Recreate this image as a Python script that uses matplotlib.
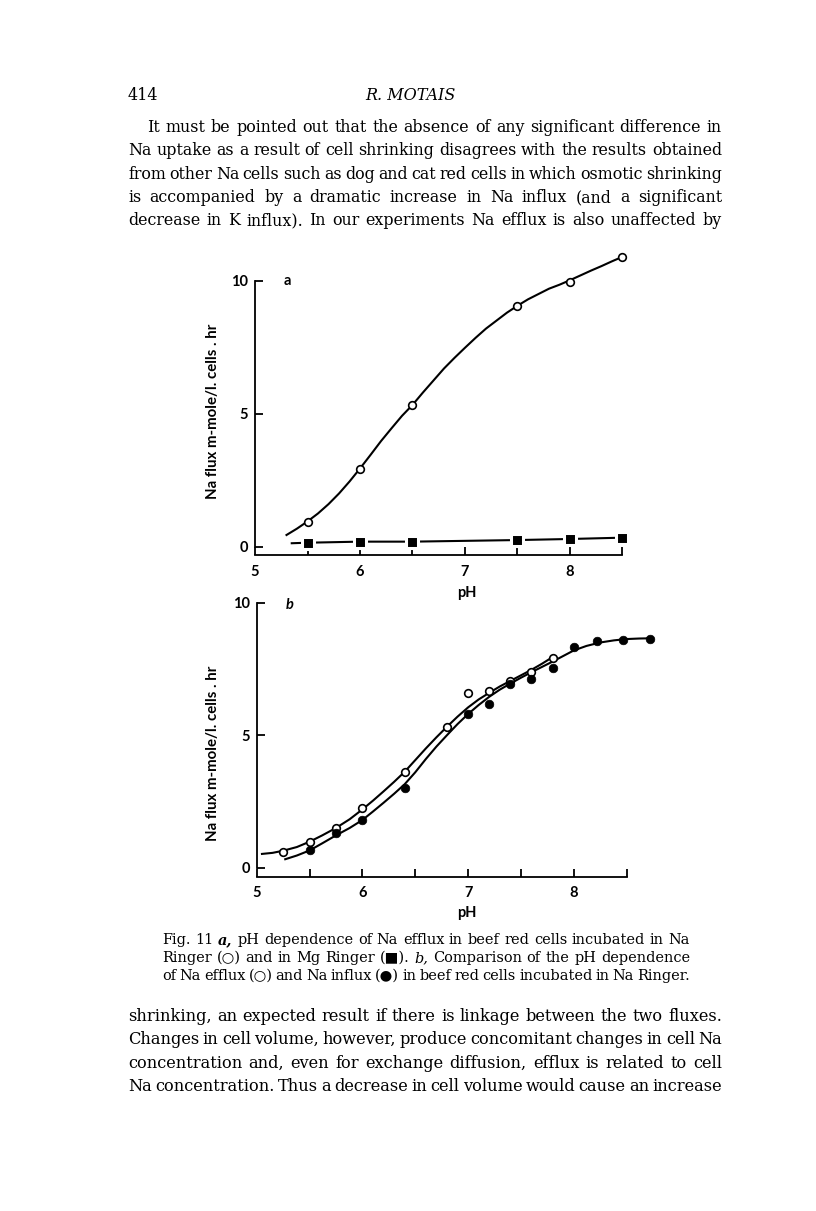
import matplotlib
matplotlib.use('Agg')
import matplotlib.pyplot as plt

W, H = 816, 1211
SERIF = ['DejaVu Serif', 'DejaVu Sans']
SANS = ['Lato', 'DejaVu Sans']

# --- Fig. 11a: Na efflux, Na Ringer (open circles) and Mg Ringer (filled squares)
ph_a_na = [5.5, 6.0, 6.5, 7.5, 8.0, 8.5]
flux_a_na = [0.94, 2.94, 5.33, 9.06, 9.96, 10.9]
ph_a_mg = [5.5, 6.0, 6.5, 7.5, 8.0, 8.5]
flux_a_mg = [0.15, 0.19, 0.19, 0.25, 0.29, 0.34]

# hand drawn fit curve of panel a
curve_a_x = [5.3, 5.4, 5.5, 5.6, 5.7, 5.8, 5.9, 6.0, 6.1, 6.2, 6.3, 6.4, 6.5, 6.6, 6.7, 6.8, 6.9,
             7.0, 7.1, 7.2, 7.3, 7.4, 7.5, 7.6, 7.7, 7.8, 7.9, 8.0, 8.1, 8.2, 8.3, 8.4, 8.5]
curve_a_y = [0.44, 0.68, 0.95, 1.25, 1.6, 2.0, 2.45, 2.94, 3.45, 3.97, 4.45, 4.92, 5.33, 5.8, 6.25,
             6.7, 7.1, 7.48, 7.85, 8.2, 8.5, 8.8, 9.06, 9.3, 9.5, 9.7, 9.85, 10.02, 10.2, 10.38, 10.55,
             10.73, 10.9]
mg_line_x = [5.35, 5.5, 6.0, 6.5, 7.5, 8.0, 8.5]
mg_line_y = [0.13, 0.15, 0.19, 0.19, 0.25, 0.29, 0.34]

# --- Fig. 11b: Na efflux (open) and Na influx (filled)
ph_b_eff = [5.25, 5.5, 5.75, 6.0, 6.4, 6.8, 7.0, 7.2, 7.4, 7.6, 7.8]
flux_b_eff = [0.60, 0.98, 1.48, 2.24, 3.62, 5.32, 6.60, 6.67, 7.04, 7.40, 7.90]
ph_b_inf = [5.5, 5.75, 6.0, 6.4, 7.0, 7.2, 7.4, 7.6, 7.8, 8.0, 8.22, 8.47, 8.72]
flux_b_inf = [0.67, 1.32, 1.80, 3.02, 5.80, 6.16, 6.93, 7.12, 7.55, 8.34, 8.55, 8.59, 8.65]

curve_eff_x = [5.05, 5.15, 5.25, 5.38, 5.5, 5.62, 5.75, 5.88, 6.0, 6.1, 6.2, 6.3, 6.4, 6.5, 6.6,
               6.7, 6.8, 6.9, 7.0, 7.1, 7.2, 7.3, 7.4, 7.5, 7.6, 7.7, 7.8]
curve_eff_y = [0.52, 0.56, 0.64, 0.78, 0.98, 1.22, 1.5, 1.83, 2.2, 2.53, 2.88, 3.24, 3.62, 4.06, 4.5,
               4.92, 5.32, 5.7, 6.05, 6.35, 6.6, 6.84, 7.05, 7.26, 7.47, 7.7, 7.95]
curve_inf_x = [5.27, 5.38, 5.5, 5.62, 5.75, 5.88, 6.0, 6.1, 6.2, 6.3, 6.4, 6.5, 6.6, 6.7, 6.8, 6.9,
               7.0, 7.1, 7.2, 7.3, 7.4, 7.5, 7.6, 7.7, 7.8, 7.9, 8.0, 8.12, 8.25, 8.38, 8.5, 8.62, 8.75]
curve_inf_y = [0.32, 0.46, 0.65, 0.92, 1.22, 1.5, 1.8, 2.12, 2.45, 2.79, 3.15, 3.6, 4.1, 4.57, 5.0,
               5.42, 5.8, 6.14, 6.45, 6.72, 6.95, 7.17, 7.38, 7.58, 7.78, 7.99, 8.2, 8.37, 8.5, 8.58,
               8.63, 8.65, 8.66]

xticks_major = [5, 6, 7, 8]
xticks_minor = [5.5, 6.5, 7.5, 8.5]
yticks = [0, 5, 10]
ylab = 'Na flux m-mole/l. cells . hr'

# --- page text
header_left = '414'
header_mid = 'R. MOTAIS'
para_top = [
    'It must be pointed out that the absence of any significant difference in',
    'Na uptake as a result of cell shrinking disagrees with the results obtained',
    'from other Na cells such as dog and cat red cells in which osmotic shrinking',
    'is accompanied by a dramatic increase in Na influx (and a significant',
    'decrease in K influx). In our experiments Na efflux is also unaffected by',
]
caption = [
    'Fig. 11 ^a, pH dependence of Na efflux in beef red cells incubated in Na',
    'Ringer (\u25cb) and in Mg Ringer (\u25a0). ~b, Comparison of the pH dependence',
    'of Na efflux (\u25cb) and Na influx (\u25cf) in beef red cells incubated in Na Ringer.',
]
para_bottom = [
    'shrinking, an expected result if there is linkage between the two fluxes.',
    'Changes in cell volume, however, produce concomitant changes in cell Na',
    'concentration and, even for exchange diffusion, efflux is related to cell',
    'Na concentration. Thus a decrease in cell volume would cause an increase',
]

fig = plt.figure(figsize=(W / 100, H / 100), dpi=100)
fig.patch.set_facecolor('white')
renderer = fig.canvas.get_renderer()


def px_axes(x0, x1, y_top, y_bot):
    return fig.add_axes([x0 / W, 1 - y_bot / H, (x1 - x0) / W, (y_bot - y_top) / H])


def style_axes(ax, offset_px):
    ax.patch.set_visible(False)
    for s in ['top', 'right']:
        ax.spines[s].set_visible(False)
    for s in ['left', 'bottom']:
        ax.spines[s].set_linewidth(1.3)
    ax.spines['left'].set_bounds(0, 10)
    ax.spines['bottom'].set_bounds(5, 8.5)
    ax.spines['bottom'].set_position(('outward', offset_px * 0.72))
    ax.set_xticks(xticks_major)
    ax.set_xticks(xticks_minor, minor=True)
    ax.set_yticks(yticks)
    ax.tick_params(which='both', direction='in', length=6, width=1.3)
    ax.tick_params(axis='y', pad=5, labelsize=10.5)
    ax.tick_params(axis='x', pad=7, labelsize=10.5)
    for lab in ax.get_xticklabels() + ax.get_yticklabels():
        lab.set_family(SANS)
        lab.set_weight('bold')


# panel a
ax1 = px_axes(255, 654, 248.8, 546.7)
ax1.set_xlim(5, 8.8)
ax1.set_ylim(0, 11.2)
style_axes(ax1, 8.3)
ax1.plot(curve_a_x, curve_a_y, color='black', lw=1.5, clip_on=False)
ax1.plot(ph_a_na, flux_a_na, 'o', ms=5.5, mfc='white', mec='black', mew=1.2, clip_on=False)
ax1.plot(mg_line_x, mg_line_y, color='black', lw=1.5, clip_on=False)
ax1.plot(ph_a_mg, flux_a_mg, 's', ms=8.5, mfc='black', mec='white', mew=2.2, clip_on=False)
ax1.text(5.27, 10, 'a', family=SANS, fontsize=10.5, weight='bold', va='center', ha='left')

# panel b
ax2 = px_axes(256.7, 668.9, 589.5, 867.7)
ax2.set_xlim(5, 8.9)
ax2.set_ylim(0, 10.5)
style_axes(ax2, 9)
ax2.plot(curve_eff_x, curve_eff_y, color='black', lw=1.5, clip_on=False)
ax2.plot(curve_inf_x, curve_inf_y, color='black', lw=1.5, clip_on=False)
ax2.plot(ph_b_eff, flux_b_eff, 'o', ms=5.5, mfc='white', mec='black', mew=1.2, clip_on=False, zorder=4)
ax2.plot(ph_b_inf, flux_b_inf, 'o', ms=6.2, mfc='black', mec='black', mew=0.5, clip_on=False, zorder=4)
ax2.text(5.27, 9.9, 'b', family=SANS, fontsize=10.5, style='italic', weight='bold', va='center', ha='left')

# axis titles placed on the page
for (x, y) in [(213, 411), (213, 753)]:
    fig.text(x / W, 1 - y / H, ylab, rotation=90, ha='center', va='center', family=SANS,
             fontsize=10.8, weight='bold')
for (x, y) in [(467, 593), (467, 913)]:
    fig.text(x / W, 1 - y / H, 'pH', ha='center', va='center', family=SANS, fontsize=10.5, weight='bold')


def split_style(tok):
    if tok.startswith('^'):
        return tok[1:], dict(style='italic', weight='bold')
    if tok.startswith('~'):
        return tok[1:], dict(style='italic')
    return tok, {}


def draw_paragraph(lines, x0, x1, y0, dy, size, indent=0):
    # first pass: check the natural width and shrink font if needed
    rows = []
    for i, line in enumerate(lines):
        texts = []
        for tok in line.split(' '):
            s, kw = split_style(tok)
            texts.append(fig.text(0, 1 - (y0 + i * dy) / H, s, fontsize=size, family=SERIF,
                                  va='baseline', ha='left', **kw))
        rows.append(texts)
    space = size * 0.32
    worst = 1.0
    for i, texts in enumerate(rows):
        left = x0 + (indent if i == 0 else 0)
        ws = [t.get_window_extent(renderer).width for t in texts]
        nat = sum(ws) + space * (len(ws) - 1)
        worst = min(worst, (x1 - left) / nat)
    if worst < 1.0:
        for texts in rows:
            for t in texts:
                t.set_fontsize(size * worst)
    for i, texts in enumerate(rows):
        left = x0 + (indent if i == 0 else 0)
        ws = [t.get_window_extent(renderer).width for t in texts]
        gap = (x1 - left - sum(ws)) / (len(ws) - 1)
        x = left
        for t, w in zip(texts, ws):
            t.set_x(x / W)
            x += w + gap


fig.text(128 / W, 1 - 100 / H, header_left, family=SERIF, fontsize=11.5, va='baseline', ha='left')
fig.text(410 / W, 1 - 100 / H, header_mid, family=SERIF, fontsize=11.5, style='italic', va='baseline', ha='center')

draw_paragraph(para_top, 128, 722, 132, 23.3, 13.5, indent=19)
draw_paragraph(caption, 162, 690, 944, 18, 11)
draw_paragraph(para_bottom, 128, 722, 1021, 23.3, 13.5)

fig.savefig('out.png', dpi=100, facecolor='white')
